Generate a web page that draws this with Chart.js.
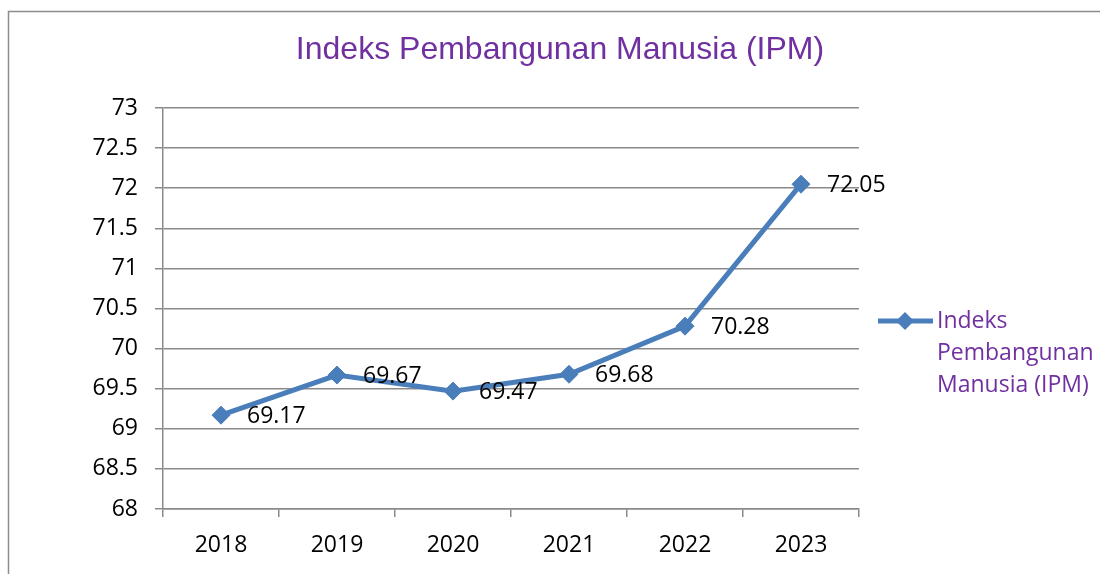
<!DOCTYPE html>
<html>
<head>
<meta charset="utf-8">
<script src="https://cdn.jsdelivr.net/npm/chart.js@4/dist/chart.umd.min.js"></script>
<style>
  html, body { margin: 0; padding: 0; background: #ffffff; }
  #wrap { width: 1100px; height: 574px; position: relative; }
</style>
</head>
<body>
<div id="wrap"><canvas id="c"></canvas></div>
<script>
// ---- data ----
const titleText = 'Indeks Pembangunan Manusia (IPM)';
const seriesLabel = 'Indeks Pembangunan Manusia (IPM)';
const years = ['2018', '2019', '2020', '2021', '2022', '2023'];
const ipmValues = [69.17, 69.67, 69.47, 69.68, 70.28, 72.05];
const yMin = 68;
const yMax = 73;
const yStep = 0.5;

// ---- styles ----
const lineColor = '#4A7EBB';
const gridColor = '#8A8A8A';
const purple = '#7030A0';
const bodyFont = "'Open Sans', 'Noto Sans', sans-serif";

const frame = {
  id: 'frame',
  beforeDraw(chart) {
    const ctx = chart.ctx;
    ctx.save();
    ctx.fillStyle = '#ffffff';
    ctx.fillRect(0, 0, chart.width, chart.height);
    ctx.strokeStyle = '#8C8C8C';
    ctx.lineWidth = 1.5;
    ctx.strokeRect(8.5, 11.5, 1300, 700);
    ctx.restore();
  }
};

const valueLabels = {
  id: 'valueLabels',
  afterDatasetsDraw(chart) {
    const ctx = chart.ctx;
    const meta = chart.getDatasetMeta(0);
    const data = chart.data.datasets[0].data;
    ctx.save();
    ctx.font = '23px ' + bodyFont;
    ctx.fillStyle = '#000000';
    ctx.textAlign = 'left';
    ctx.textBaseline = 'middle';
    meta.data.forEach((pt, i) => {
      ctx.fillText(String(data[i]), pt.x + 26, pt.y + 1);
    });
    ctx.restore();
  }
};

function wrapWords(ctx, text, maxW) {
  const words = text.split(' ');
  const lines = [];
  let cur = '';
  words.forEach(w => {
    const t = cur ? cur + ' ' + w : w;
    if (cur && ctx.measureText(t).width > maxW) { lines.push(cur); cur = w; }
    else cur = t;
  });
  if (cur) lines.push(cur);
  return lines;
}

const sideLegend = {
  id: 'sideLegend',
  afterDraw(chart) {
    const ctx = chart.ctx;
    const ds = chart.data.datasets[0];
    const area = chart.chartArea;
    const x0 = area.right + 19;
    const y0 = area.top + 213;
    ctx.save();
    ctx.strokeStyle = ds.borderColor;
    ctx.lineWidth = 5;
    ctx.beginPath();
    ctx.moveTo(x0, y0);
    ctx.lineTo(x0 + 55, y0);
    ctx.stroke();
    const cx = x0 + 27, r = 9;
    ctx.fillStyle = ds.pointBackgroundColor;
    ctx.beginPath();
    ctx.moveTo(cx, y0 - r);
    ctx.lineTo(cx + r, y0);
    ctx.lineTo(cx, y0 + r);
    ctx.lineTo(cx - r, y0);
    ctx.closePath();
    ctx.fill();
    ctx.font = '23px ' + bodyFont;
    ctx.fillStyle = purple;
    ctx.textAlign = 'left';
    ctx.textBaseline = 'middle';
    const lines = wrapWords(ctx, ds.label, 162);
    lines.forEach((ln, i) => ctx.fillText(ln, x0 + 59, y0 + i * 32));
    ctx.restore();
  }
};

new Chart(document.getElementById('c'), {
  type: 'line',
  data: {
    labels: years,
    datasets: [{
      label: seriesLabel,
      data: ipmValues,
      borderColor: lineColor,
      backgroundColor: lineColor,
      borderWidth: 5,
      tension: 0,
      fill: false,
      pointStyle: 'rectRot',
      pointRadius: 9,
      pointHoverRadius: 9,
      pointBackgroundColor: lineColor,
      pointBorderColor: lineColor,
      pointBorderWidth: 1,
      yAxisID: 'y'
    }]
  },
  options: {
    responsive: true,
    maintainAspectRatio: false,
    animation: false,
    layout: { padding: { left: 20, right: 0, top: 0, bottom: 0 } },
    plugins: {
      legend: { display: false },
      tooltip: { enabled: false },
      title: {
        display: true,
        text: titleText,
        color: purple,
        font: { family: "'Liberation Sans', Arial, sans-serif", size: 32, weight: 'normal', lineHeight: 1.2 },
        padding: { top: 31, bottom: 38.6 }
      }
    },
    scales: {
      x: {
        type: 'category',
        offset: true,
        grid: {
          offset: true,
          drawOnChartArea: false,
          drawTicks: true,
          tickLength: 8,
          color: gridColor,
          lineWidth: 1.5
        },
        border: { display: true, color: gridColor, width: 1.5 },
        ticks: {
          color: '#000000',
          font: { family: bodyFont, size: 23 },
          padding: 15,
          maxRotation: 0
        },
        afterFit(s) { s.height = 65; }
      },
      y: {
        type: 'linear',
        position: 'left',
        min: yMin,
        max: yMax,
        grid: {
          color: gridColor,
          lineWidth: 1.5,
          drawTicks: true,
          tickLength: 8
        },
        border: { display: true, color: gridColor, width: 1.5 },
        ticks: {
          stepSize: yStep,
          color: '#000000',
          font: { family: bodyFont, size: 23 },
          padding: 17,
          callback: (v) => String(Math.round(v * 10) / 10)
        },
        afterFit(s) { s.width = 143; }
      },
      yR: {
        type: 'linear',
        position: 'right',
        display: true,
        grid: { display: false },
        border: { display: false },
        ticks: { display: false },
        afterFit(s) { s.width = 241; }
      }
    }
  },
  plugins: [frame, valueLabels, sideLegend]
});
</script>
</body>
</html>
